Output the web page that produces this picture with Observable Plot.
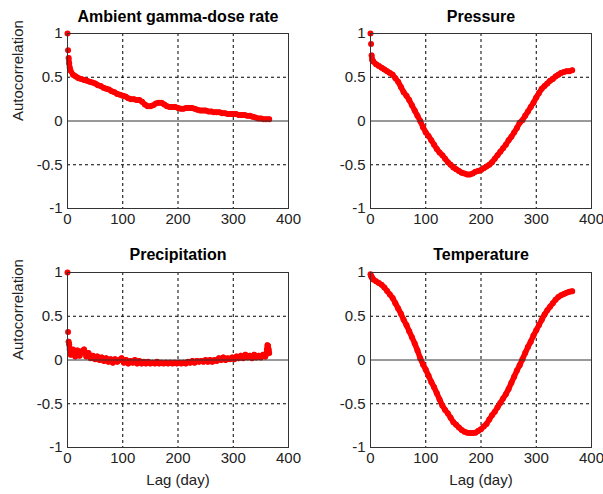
<!DOCTYPE html>
<html><head><meta charset="utf-8">
<script src="https://cdn.jsdelivr.net/npm/d3@7"></script>
<script src="https://cdn.jsdelivr.net/npm/@observablehq/plot@0.6"></script>
<style>
body{margin:0;background:#fff;}
#chart{position:relative;width:603px;height:494px;background:#fff;font-family:"Liberation Sans",Arial,sans-serif;}
#chart > div{position:absolute;}
</style></head><body><div id="chart"></div>
<script>
// Lag (days) for the three smooth series
const lags = [0,1,2,3,4,5,10,15,20,25,30,35,40,45,50,55,60,65,70,75,80,85,90,95,100,105,110,115,120,125,130,135,140,145,150,155,160,165,170,175,180,185,190,195,200,205,210,215,220,225,230,235,240,245,250,255,260,265,270,275,280,285,290,295,300,305,310,315,320,325,330,335,340,345,350,355,360,365];

const gammaDose = [1.00,0.81,0.72,0.66,0.61,0.58,0.53,0.51,0.49,0.48,0.47,0.46,0.45,0.44,0.43,0.41,0.40,0.38,0.37,0.36,0.34,0.33,0.31,0.30,0.29,0.28,0.26,0.25,0.25,0.24,0.24,0.22,0.19,0.17,0.17,0.18,0.20,0.21,0.21,0.19,0.17,0.16,0.16,0.16,0.15,0.14,0.14,0.15,0.15,0.15,0.14,0.13,0.12,0.12,0.12,0.11,0.11,0.10,0.10,0.10,0.09,0.09,0.08,0.08,0.08,0.08,0.07,0.07,0.07,0.06,0.06,0.05,0.04,0.03,0.03,0.02,0.02,0.02];

const pressure = [1.00,0.88,0.75,0.70,0.69,0.68,0.65,0.63,0.61,0.59,0.57,0.55,0.53,0.49,0.45,0.39,0.33,0.29,0.24,0.18,0.12,0.06,0.00,-0.07,-0.13,-0.17,-0.22,-0.27,-0.32,-0.36,-0.39,-0.43,-0.47,-0.50,-0.53,-0.55,-0.57,-0.59,-0.60,-0.61,-0.61,-0.60,-0.58,-0.57,-0.56,-0.54,-0.52,-0.50,-0.47,-0.43,-0.39,-0.35,-0.31,-0.27,-0.22,-0.18,-0.13,-0.08,-0.02,0.01,0.06,0.11,0.16,0.21,0.27,0.32,0.37,0.40,0.43,0.46,0.48,0.51,0.53,0.55,0.56,0.57,0.57,0.58];

const temperature = [0.98,0.96,0.95,0.94,0.93,0.92,0.90,0.88,0.86,0.83,0.79,0.75,0.71,0.65,0.59,0.53,0.46,0.40,0.33,0.26,0.19,0.11,0.02,-0.05,-0.11,-0.18,-0.25,-0.31,-0.38,-0.45,-0.52,-0.57,-0.61,-0.66,-0.71,-0.74,-0.77,-0.80,-0.82,-0.83,-0.835,-0.835,-0.83,-0.81,-0.79,-0.76,-0.73,-0.68,-0.63,-0.59,-0.54,-0.49,-0.44,-0.39,-0.33,-0.26,-0.19,-0.12,-0.06,0.01,0.08,0.15,0.21,0.28,0.34,0.40,0.46,0.52,0.57,0.61,0.65,0.69,0.72,0.74,0.755,0.77,0.78,0.785];

// Lag (days) and values for the noisy precipitation series
const precipLags = [0,1,2,3,4,5,6,10,14,18,22,26,30,34,38,42,46,50,54,58,62,66,70,74,78,82,86,90,94,98,102,106,110,114,118,122,126,130,134,138,142,146,150,154,158,162,166,170,174,178,182,186,190,194,198,202,206,210,214,218,222,226,230,234,238,242,246,250,254,258,262,266,270,274,278,282,286,290,294,298,302,306,310,314,318,322,326,330,334,338,342,346,350,354,358,360,361,362,363,364,365];

const precipitation = [1.00,0.32,0.21,0.18,0.12,0.09,0.06,0.12,0.04,0.11,0.05,0.10,0.12,0.04,0.08,0.02,0.05,0.01,0.04,0.00,0.03,-0.01,0.02,-0.02,0.01,-0.03,0.01,-0.02,0.00,0.02,-0.03,0.00,-0.04,-0.01,-0.03,0.00,-0.04,-0.01,-0.04,-0.02,-0.04,-0.02,-0.04,-0.03,-0.04,-0.02,-0.04,-0.03,-0.04,-0.03,-0.04,-0.03,-0.04,-0.03,-0.04,-0.03,-0.04,-0.03,-0.04,-0.02,-0.03,-0.01,-0.03,-0.01,-0.02,-0.01,-0.02,0.00,-0.02,0.00,-0.02,0.00,-0.01,0.02,0.00,0.03,0.00,0.02,0.01,0.03,0.01,0.04,0.02,0.05,0.02,0.06,0.03,0.05,0.02,0.06,0.03,0.05,0.03,0.06,0.04,0.07,0.12,0.17,0.16,0.12,0.08];

const xTicks = [0,100,200,300,400];
const yTicks = [-1,-0.5,0,0.5,1];
const xGrid = [100,200,300];
const yGrid = [-0.5,0.5];
const titles = ["Ambient gamma-dose rate","Pressure","Precipitation","Temperature"];
const yLabel = "Autocorrelation";
const xLabel = "Lag (day)";

const FONT = '"Liberation Sans", Arial, sans-serif';

function panel(opts) {
  const {title, xs, ys, left, top, width, height, mt, mb, ml, mr, showY, showX, titleDy} = opts;
  const rows = xs.map((lag, i) => ({lag, value: ys[i]}));
  const marks = [
    Plot.gridX(xGrid, {stroke: "#000", strokeOpacity: 1, strokeDasharray: "3,3"}),
    Plot.gridY(yGrid, {stroke: "#000", strokeOpacity: 1, strokeDasharray: "3,3"}),
    Plot.line(rows.filter(d => d.lag >= 2), {x: "lag", y: "value", stroke: "red", strokeWidth: 5.5, strokeLinejoin: "round", strokeLinecap: "round"}),
    Plot.dot(rows, {x: "lag", y: "value", r: 3, fill: "red", stroke: null}),
    Plot.ruleY([0], {stroke: "#333", strokeWidth: 1}),
    Plot.frame({stroke: "#333"}),
    Plot.axisX(xTicks, {tickSize: 0, tickPadding: 5, fontSize: 15, color: "#222", label: null, tickFormat: d => String(d)}),
    Plot.axisY(yTicks, {tickSize: 0, tickPadding: 5, fontSize: 15, color: "#222", label: null, tickFormat: d => String(d)}),
    Plot.text([title], {text: d => d, frameAnchor: "top", dy: titleDy, fontWeight: "bold", fontSize: 16, fill: "#000", lineAnchor: "middle"})
  ];
  if (showY) marks.push(Plot.text([yLabel], {text: d => d, frameAnchor: "left", dx: -49, rotate: -90, fontSize: 15, fill: "#222", lineAnchor: "middle"}));
  if (showX) marks.push(Plot.text([xLabel], {text: d => d, frameAnchor: "bottom", dy: 33, fontSize: 15, fill: "#222", lineAnchor: "middle"}));
  const svg = Plot.plot({
    width, height,
    marginTop: mt, marginBottom: mb, marginLeft: ml, marginRight: mr,
    style: {fontFamily: FONT, background: "white", overflow: "visible"},
    x: {domain: [0, 400]},
    y: {domain: [-1, 1]},
    marks
  });
  const wrap = document.createElement("div");
  wrap.style.left = left + "px";
  wrap.style.top = top + "px";
  wrap.appendChild(svg);
  document.getElementById("chart").appendChild(wrap);
}

panel({title: titles[0], xs: lags, ys: gammaDose, left: 0, top: 0, width: 301, height: 240, mt: 33, mb: 32, ml: 67, mr: 13, showY: true, showX: false, titleDy: -17});
panel({title: titles[1], xs: lags, ys: pressure, left: 301, top: 0, width: 302, height: 240, mt: 33, mb: 32, ml: 69, mr: 12, showY: false, showX: false, titleDy: -17});
panel({title: titles[2], xs: precipLags, ys: precipitation, left: 0, top: 240, width: 301, height: 254, mt: 32, mb: 47, ml: 67, mr: 13, showY: true, showX: true, titleDy: -18});
panel({title: titles[3], xs: lags, ys: temperature, left: 301, top: 240, width: 302, height: 254, mt: 32, mb: 47, ml: 69, mr: 12, showY: false, showX: true, titleDy: -18});
</script></body></html>
